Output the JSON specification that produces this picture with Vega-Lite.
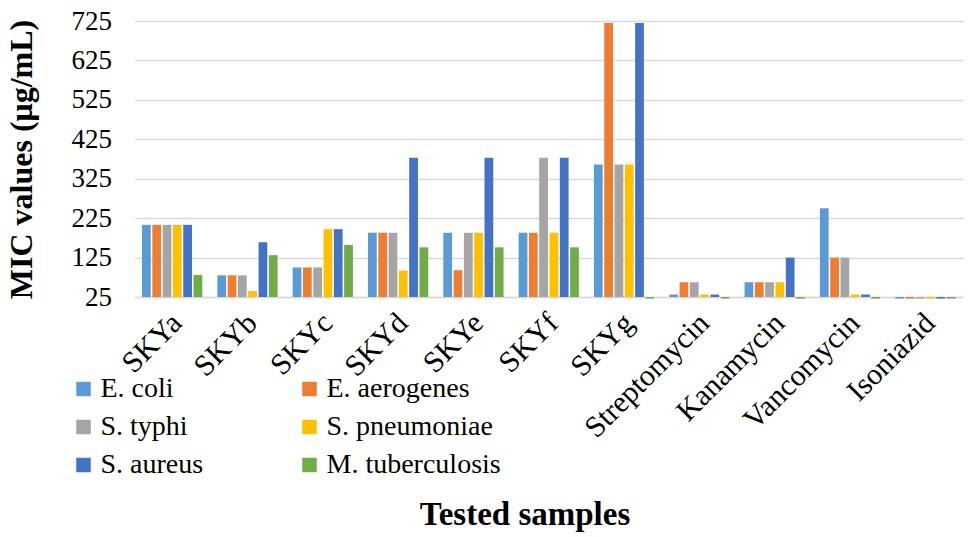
{
  "$schema": "https://vega.github.io/schema/vega-lite/v6.json",
  "width": 828.5,
  "height": 276,
  "autosize": "none",
  "padding": {"left": 134.5, "top": 21, "right": 6, "bottom": 240},
  "background": "white",
  "config": {
    "view": {"stroke": null},
    "font": "Liberation Serif",
    "axis": {"labelFont": "Liberation Serif", "titleFont": "Liberation Serif"},
    "legend": {"labelFont": "Liberation Serif"}
  },
  "data": {"values": [
    {"sample": "SKYa", "organism": "E. coli", "mic": 208},
    {"sample": "SKYa", "organism": "E. aerogenes", "mic": 208},
    {"sample": "SKYa", "organism": "S. typhi", "mic": 208},
    {"sample": "SKYa", "organism": "S. pneumoniae", "mic": 208},
    {"sample": "SKYa", "organism": "S. aureus", "mic": 208},
    {"sample": "SKYa", "organism": "M. tuberculosis", "mic": 81},
    {"sample": "SKYb", "organism": "E. coli", "mic": 80},
    {"sample": "SKYb", "organism": "E. aerogenes", "mic": 80},
    {"sample": "SKYb", "organism": "S. typhi", "mic": 80},
    {"sample": "SKYb", "organism": "S. pneumoniae", "mic": 40},
    {"sample": "SKYb", "organism": "S. aureus", "mic": 164},
    {"sample": "SKYb", "organism": "M. tuberculosis", "mic": 131},
    {"sample": "SKYc", "organism": "E. coli", "mic": 100},
    {"sample": "SKYc", "organism": "E. aerogenes", "mic": 100},
    {"sample": "SKYc", "organism": "S. typhi", "mic": 100},
    {"sample": "SKYc", "organism": "S. pneumoniae", "mic": 197},
    {"sample": "SKYc", "organism": "S. aureus", "mic": 197},
    {"sample": "SKYc", "organism": "M. tuberculosis", "mic": 157},
    {"sample": "SKYd", "organism": "E. coli", "mic": 188},
    {"sample": "SKYd", "organism": "E. aerogenes", "mic": 188},
    {"sample": "SKYd", "organism": "S. typhi", "mic": 188},
    {"sample": "SKYd", "organism": "S. pneumoniae", "mic": 92},
    {"sample": "SKYd", "organism": "S. aureus", "mic": 378},
    {"sample": "SKYd", "organism": "M. tuberculosis", "mic": 151},
    {"sample": "SKYe", "organism": "E. coli", "mic": 188},
    {"sample": "SKYe", "organism": "E. aerogenes", "mic": 93},
    {"sample": "SKYe", "organism": "S. typhi", "mic": 188},
    {"sample": "SKYe", "organism": "S. pneumoniae", "mic": 188},
    {"sample": "SKYe", "organism": "S. aureus", "mic": 378},
    {"sample": "SKYe", "organism": "M. tuberculosis", "mic": 151},
    {"sample": "SKYf", "organism": "E. coli", "mic": 188},
    {"sample": "SKYf", "organism": "E. aerogenes", "mic": 188},
    {"sample": "SKYf", "organism": "S. typhi", "mic": 378},
    {"sample": "SKYf", "organism": "S. pneumoniae", "mic": 188},
    {"sample": "SKYf", "organism": "S. aureus", "mic": 378},
    {"sample": "SKYf", "organism": "M. tuberculosis", "mic": 151},
    {"sample": "SKYg", "organism": "E. coli", "mic": 361},
    {"sample": "SKYg", "organism": "E. aerogenes", "mic": 720},
    {"sample": "SKYg", "organism": "S. typhi", "mic": 361},
    {"sample": "SKYg", "organism": "S. pneumoniae", "mic": 361},
    {"sample": "SKYg", "organism": "S. aureus", "mic": 720},
    {"sample": "SKYg", "organism": "M. tuberculosis", "mic": 21},
    {"sample": "Streptomycin", "organism": "E. coli", "mic": 31.25},
    {"sample": "Streptomycin", "organism": "E. aerogenes", "mic": 62.5},
    {"sample": "Streptomycin", "organism": "S. typhi", "mic": 62.5},
    {"sample": "Streptomycin", "organism": "S. pneumoniae", "mic": 31.25},
    {"sample": "Streptomycin", "organism": "S. aureus", "mic": 31.25},
    {"sample": "Streptomycin", "organism": "M. tuberculosis", "mic": 21},
    {"sample": "Kanamycin", "organism": "E. coli", "mic": 62.5},
    {"sample": "Kanamycin", "organism": "E. aerogenes", "mic": 62.5},
    {"sample": "Kanamycin", "organism": "S. typhi", "mic": 62.5},
    {"sample": "Kanamycin", "organism": "S. pneumoniae", "mic": 62.5},
    {"sample": "Kanamycin", "organism": "S. aureus", "mic": 125},
    {"sample": "Kanamycin", "organism": "M. tuberculosis", "mic": 21},
    {"sample": "Vancomycin", "organism": "E. coli", "mic": 250},
    {"sample": "Vancomycin", "organism": "E. aerogenes", "mic": 125},
    {"sample": "Vancomycin", "organism": "S. typhi", "mic": 125},
    {"sample": "Vancomycin", "organism": "S. pneumoniae", "mic": 31.25},
    {"sample": "Vancomycin", "organism": "S. aureus", "mic": 31.25},
    {"sample": "Vancomycin", "organism": "M. tuberculosis", "mic": 21},
    {"sample": "Isoniazid", "organism": "E. coli", "mic": 21},
    {"sample": "Isoniazid", "organism": "E. aerogenes", "mic": 21},
    {"sample": "Isoniazid", "organism": "S. typhi", "mic": 21},
    {"sample": "Isoniazid", "organism": "S. pneumoniae", "mic": 21},
    {"sample": "Isoniazid", "organism": "S. aureus", "mic": 21},
    {"sample": "Isoniazid", "organism": "M. tuberculosis", "mic": 21}
  ]},
  "mark": {"type": "bar", "clip": false},
  "encoding": {
    "x": {
      "field": "sample", "type": "nominal",
      "sort": ["SKYa","SKYb","SKYc","SKYd","SKYe","SKYf","SKYg","Streptomycin","Kanamycin","Vancomycin","Isoniazid"],
      "scale": {"paddingInner": 0.2, "paddingOuter": 0.1},
      "axis": {
        "domainColor": "#d9d9d9", "domainWidth": 1.5, "ticks": false, "grid": false,
        "labelAngle": -45, "labelAlign": "right", "labelBaseline": "middle",
        "labelFont": "Liberation Serif", "labelFontSize": 30, "labelColor": "black",
        "labelOffset": 5, "labelPadding": 21,
        "title": "Tested samples", "titleFont": "Liberation Serif", "titleFontSize": 33,
        "titleFontWeight": "bold", "titleColor": "black",
        "titleX": 390, "titleY": 217, "titleBaseline": "middle"
      }
    },
    "xOffset": {
      "field": "organism", "type": "nominal",
      "sort": ["E. coli","E. aerogenes","S. typhi","S. pneumoniae","S. aureus","M. tuberculosis"],
      "scale": {"paddingInner": 0.15}
    },
    "y": {
      "field": "mic", "type": "quantitative",
      "scale": {"domain": [25, 725], "zero": false, "nice": false},
      "axis": {
        "values": [25,125,225,325,425,525,625,725],
        "domain": false, "ticks": false, "grid": true, "gridColor": "#d9d9d9", "gridWidth": 1.5,
        "labelFont": "Liberation Serif", "labelFontSize": 27, "labelColor": "black", "labelPadding": 23,
        "title": "MIC values (μg/mL)", "titleFont": "Liberation Serif", "titleFontSize": 32,
        "titleFontWeight": "bold", "titleColor": "black",
        "titleX": -113, "titleY": 138, "titleBaseline": "middle", "titleAlign": "center"
      }
    },
    "y2": {"datum": 25},
    "color": {
      "field": "organism", "type": "nominal",
      "sort": ["E. coli","E. aerogenes","S. typhi","S. pneumoniae","S. aureus","M. tuberculosis"],
      "scale": {"range": ["#5B9BD5","#ED7D31","#A5A5A5","#FFC000","#4472C4","#70AD47"]},
      "legend": {
        "title": null, "orient": "none", "legendX": -65, "legendY": 354,
        "direction": "horizontal",
        "columns": 2, "columnPadding": 92, "rowPadding": 10, "padding": 0,
        "symbolType": "square", "symbolSize": 210, "symbolStrokeWidth": 0,
        "labelFont": "Liberation Serif", "labelFontSize": 28, "labelColor": "black",
        "labelOffset": 3, "labelLimit": 400
      }
    }
  }
}
